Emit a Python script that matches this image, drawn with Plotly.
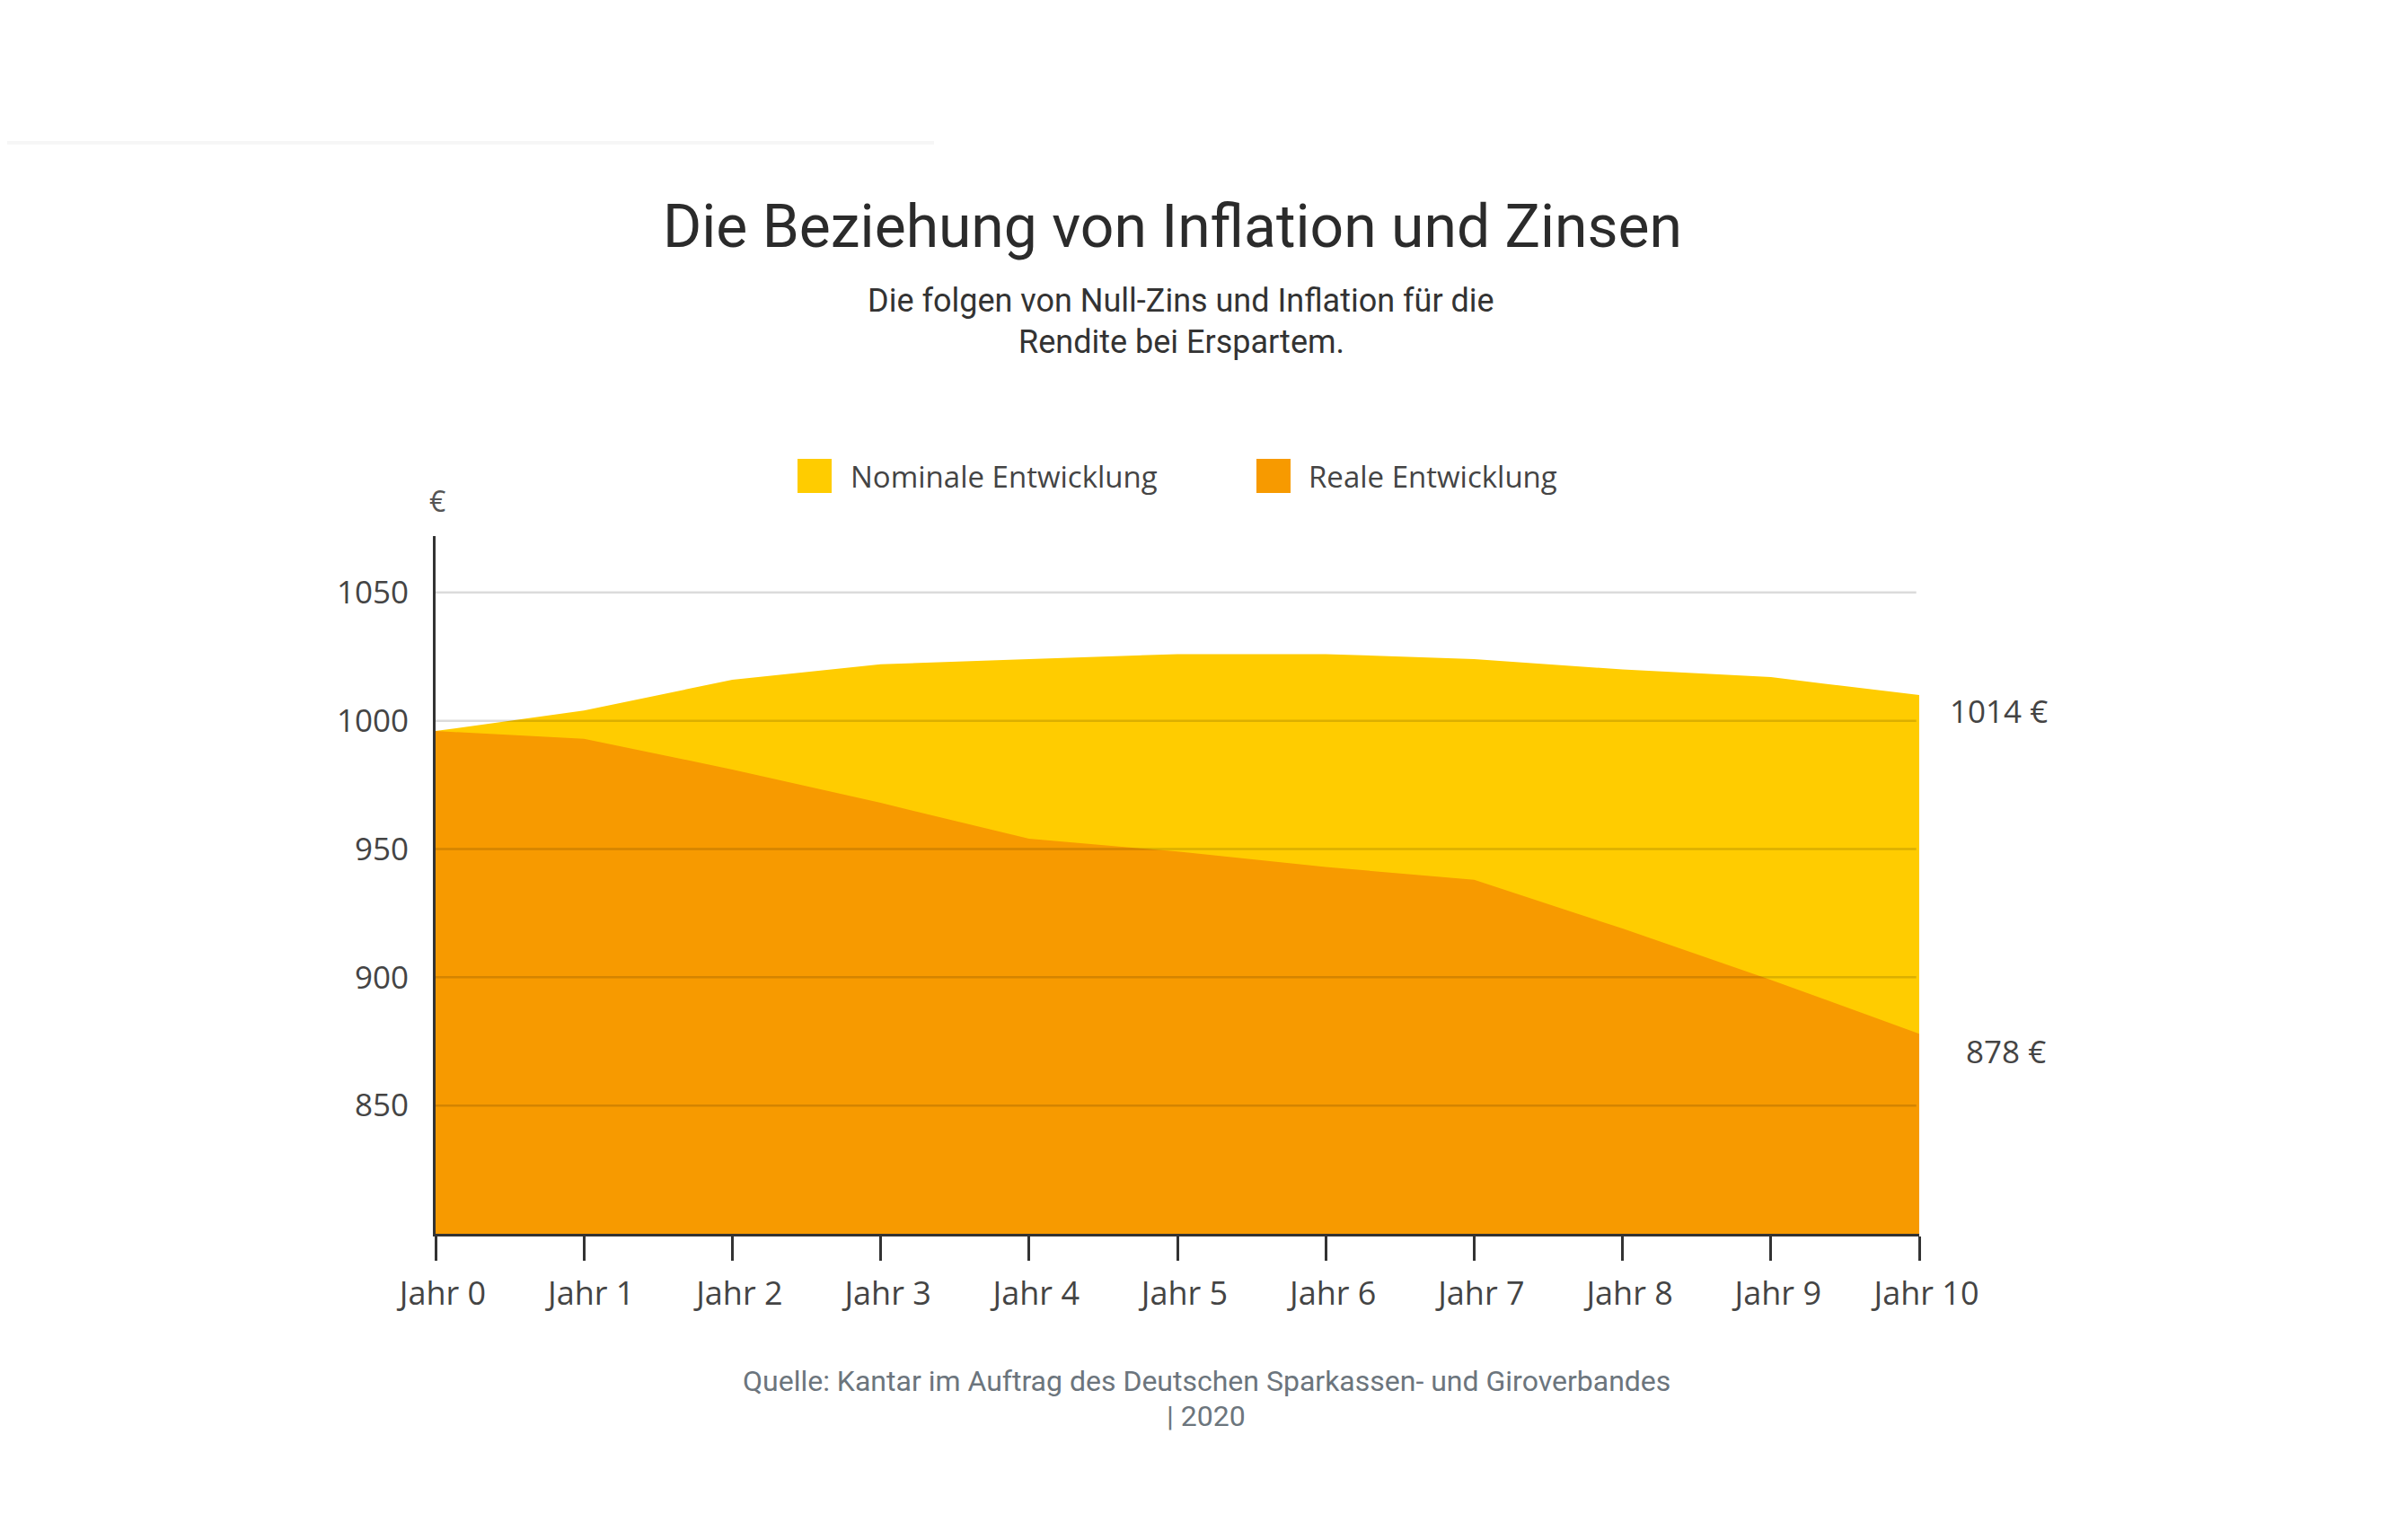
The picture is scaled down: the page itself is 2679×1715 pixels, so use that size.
import plotly.graph_objects as go

# values (EUR)
jahre = ["Jahr 0", "Jahr 1", "Jahr 2", "Jahr 3", "Jahr 4", "Jahr 5",
         "Jahr 6", "Jahr 7", "Jahr 8", "Jahr 9", "Jahr 10"]
nominal = [996, 1004, 1016, 1022, 1024, 1026, 1026, 1024, 1020, 1017, 1010]
real = [996, 993, 981, 968, 954, 949, 943, 938, 919, 899, 878]
y_ticks = [850, 900, 950, 1000, 1050]
end_labels = ["1014 €", "878 €"]

YELLOW = "#FFCC00"
ORANGE = "#F79A00"

# page is shifted by the 8px body margin, so work in page pixels and subtract it
OFF = 8
W, H = 2679 - 2 * OFF, 1715 - 2 * OFF
L, R, T, B = 485, 2137, 597, 1374  # plot area in page pixels


def px(x):
    return (x - L) / (R - L)


def py(y):
    return (B - y) / (B - T)


fig = go.Figure()
fig.add_trace(go.Scatter(x=jahre, y=nominal, name="Nominale Entwicklung", mode="lines",
                         line=dict(width=0, color=YELLOW), fill="tozeroy", fillcolor=YELLOW,
                         showlegend=False))
fig.add_trace(go.Scatter(x=jahre, y=real, name="Reale Entwicklung", mode="lines",
                         line=dict(width=0, color=ORANGE), fill="tozeroy", fillcolor=ORANGE,
                         showlegend=False))

# grid lines drawn over the areas
for v in y_ticks:
    fig.add_shape(type="line", xref="x", yref="y", x0=0, x1=9.98, y0=v, y1=v,
                  line=dict(color="rgba(0,0,0,0.14)", width=2.5), layer="above")

fig.update_xaxes(type="category", range=[0, 10], showgrid=False, zeroline=False,
                 showline=True, linecolor="#333", linewidth=3,
                 ticks="outside", ticklen=27, tickwidth=3, tickcolor="#333",
                 tickfont=dict(family="Open Sans", size=36, color="#444"),
                 ticklabelstandoff=6, ticklabelshift=8)
fig.update_yaxes(range=[800, 1072], tickvals=y_ticks, showgrid=False, zeroline=False,
                 showline=True, linecolor="#333", linewidth=3, ticks="",
                 tickfont=dict(family="Open Sans", size=35, color="#444"),
                 ticklabelstandoff=20)

ann = []
ann.append(dict(text="Die Beziehung von Inflation und Zinsen", x=px(1305), y=py(253),
                font=dict(family="Roboto", size=66, color="#2b2b2b")))
ann.append(dict(text="Die folgen von Null-Zins und Inflation für die", x=px(1315), y=py(335),
                font=dict(family="Roboto", size=36, color="#333")))
ann.append(dict(text="Rendite bei Erspartem.", x=px(1315), y=py(381),
                font=dict(family="Roboto", size=36, color="#333")))
ann.append(dict(text="Nominale Entwicklung", x=px(945), y=py(530), xanchor="left",
                font=dict(family="Open Sans", size=33, color="#444")))
ann.append(dict(text="Reale Entwicklung", x=px(1455), y=py(530), xanchor="left",
                font=dict(family="Open Sans", size=33, color="#444")))
ann.append(dict(text="€", x=px(487), y=py(557),
                font=dict(family="Open Sans", size=32, color="#555")))
ann.append(dict(text=end_labels[0], x=px(2282), y=py(791), xanchor="right",
                font=dict(family="Open Sans", size=35, color="#444")))
ann.append(dict(text=end_labels[1], x=px(2280), y=py(1170), xanchor="right",
                font=dict(family="Open Sans", size=35, color="#444")))
ann.append(dict(text="Quelle: Kantar im Auftrag des Deutschen Sparkassen- und Giroverbandes",
                x=px(1343), y=py(1538), font=dict(family="Roboto", size=32, color="#6c757d")))
ann.append(dict(text="| 2020", x=px(1343), y=py(1577),
                font=dict(family="Roboto", size=32, color="#6c757d")))
for a in ann:
    a.setdefault("xanchor", "center")
    fig.add_annotation(xref="paper", yref="paper", yanchor="middle", showarrow=False, **a)

# legend squares
for x0, c in [(888, YELLOW), (1399, ORANGE)]:
    fig.add_shape(type="rect", xref="paper", yref="paper", x0=px(x0), x1=px(x0 + 38),
                  y0=py(549), y1=py(511), fillcolor=c, line=dict(width=0))

# faint separator line at top left
fig.add_shape(type="line", xref="paper", yref="paper", x0=px(0), x1=px(1040),
              y0=py(159), y1=py(159), line=dict(color="#f6f6f6", width=4))

fig.update_layout(width=W, height=H, autosize=False,
                  margin=dict(l=L - OFF, r=W - (R - OFF), t=T - OFF, b=H - (B - OFF)),
                  paper_bgcolor="white", plot_bgcolor="white", showlegend=False)

fig.write_html("out.html")
